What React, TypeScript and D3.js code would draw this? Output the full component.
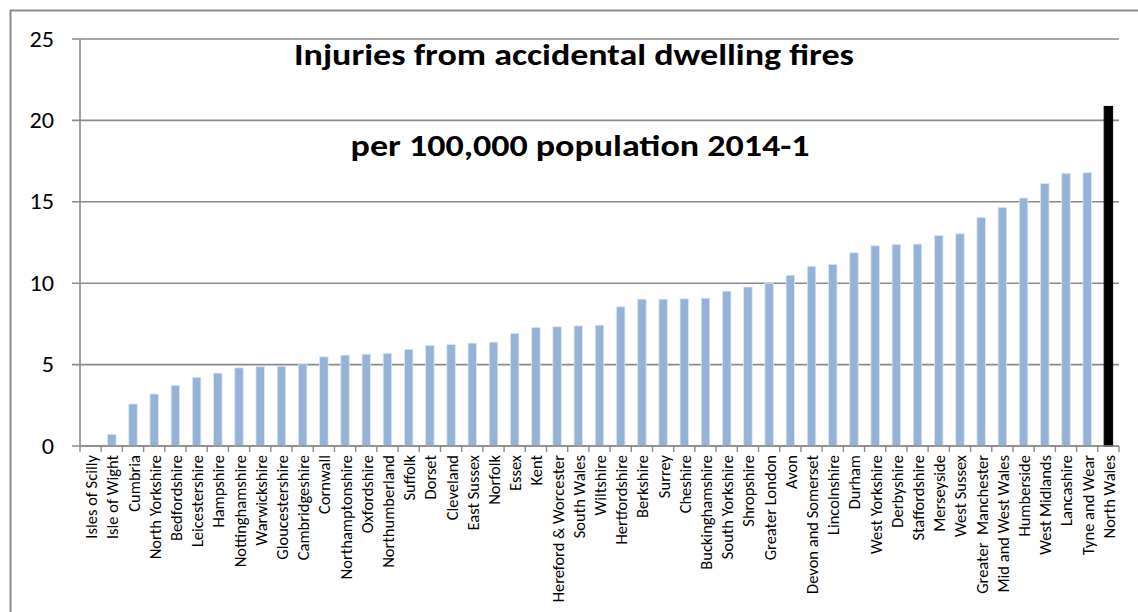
import React from "react";
import * as d3 from "d3";

// fire and rescue areas, sorted by rate
const areas = [
  "Isles of Scilly", "Isle of Wight", "Cumbria", "North Yorkshire", "Bedfordshire",
  "Leicestershire", "Hampshire", "Nottinghamshire", "Warwickshire", "Gloucestershire",
  "Cambridgeshire", "Cornwall", "Northamptonshire", "Oxfordshire", "Northumberland",
  "Suffolk", "Dorset", "Cleveland", "East Sussex", "Norfolk", "Essex", "Kent",
  "Hereford & Worcester", "South Wales", "Wiltshire", "Hertfordshire", "Berkshire",
  "Surrey", "Cheshire", "Buckinghamshire", "South Yorkshire", "Shropshire",
  "Greater London", "Avon", "Devon and Somerset", "Lincolnshire", "Durham",
  "West Yorkshire", "Derbyshire", "Staffordshire", "Merseyside", "West Sussex",
  "Greater  Manchester", "Mid and West Wales", "Humberside", "West Midlands",
  "Lancashire", "Tyne and Wear", "North Wales",
];

// injuries per 100,000 population
const rates = [
  0, 0.72, 2.58, 3.19, 3.72, 4.21, 4.48, 4.8, 4.87, 4.89,
  5.05, 5.48, 5.58, 5.64, 5.69, 5.93, 6.18, 6.24, 6.32, 6.38,
  6.91, 7.28, 7.32, 7.38, 7.42, 8.55, 9.02, 9.02, 9.04, 9.08,
  9.51, 9.77, 10.0, 10.49, 11.04, 11.16, 11.87, 12.3, 12.38, 12.4,
  12.93, 13.03, 14.03, 14.66, 15.23, 16.13, 16.75, 16.79, 20.86,
];

const highlighted = "North Wales";
const yTicks = [0, 5, 10, 15, 20, 25];
const titleLines = ["Injuries from accidental dwelling fires", "per 100,000 population 2014-1"];

const W = 1138;
const H = 612;
const margin = { top: 39, right: 19, bottom: 166, left: 80 };
const font = "Carlito, Calibri, Lato, sans-serif";

export default function App() {
  const y = d3.scaleLinear().domain([0, 25]).range([H - margin.bottom, margin.top]);
  const x = d3
    .scaleBand<string>()
    .domain(areas)
    .range([margin.left, W - margin.right]);

  const x0 = margin.left;
  const x1 = W - margin.right;
  const y0 = y(0);
  const step = x.step();
  const bw = step * 0.4;
  const cx = (name: string) => (x(name) ?? 0) + step / 2;

  return (
    <svg
      width={W}
      height={H}
      style={{ position: "absolute", left: 0, top: 0, background: "#fff" }}
      fontFamily={font}
    >
      {/* chart area border */}
      <rect x={10.5} y={10.5} width={W + 20} height={H + 20} fill="none" stroke="#8c8c8c" strokeWidth={2} />

      {/* gridlines */}
      {yTicks.map((t) => (
        <line key={t} x1={x0 - 8} x2={x1} y1={y(t)} y2={y(t)} stroke="#8a8a8a" strokeWidth={1.6} />
      ))}

      {/* bars */}
      {areas.map((a, i) => {
        const top = y(rates[i]);
        const isHi = a === highlighted;
        return (
          <rect
            key={a}
            x={cx(a) - bw / 2}
            y={top}
            width={bw}
            height={y0 - top}
            fill={isHi ? "#000" : "#95b3d7"}
            stroke={isHi ? "#000" : "#dce6f2"}
            strokeWidth={isHi ? 1 : 0.8}
          />
        );
      })}

      {/* axes */}
      <line x1={x0} x2={x0} y1={y(25)} y2={y0} stroke="#8a8a8a" strokeWidth={1.6} />
      <line x1={x0} x2={x1} y1={y0} y2={y0} stroke="#8a8a8a" strokeWidth={1.6} />
      {areas.concat([""]).map((a, i) => {
        const tx = x0 + i * step;
        return <line key={i} x1={tx} x2={tx} y1={y0} y2={y0 + 6} stroke="#8a8a8a" strokeWidth={1.4} />;
      })}

      {/* y labels */}
      {yTicks.map((t) => (
        <text
          key={t}
          transform={`translate(54,${y(t) + 7.5}) scale(1.1,1)`}
          textAnchor="end"
          fontSize={22}
          fill="#000"
        >
          {t}
        </text>
      ))}

      {/* x labels */}
      {areas.map((a) => (
        <text
          key={a}
          transform={`translate(${cx(a) + 6.5},${y0 + 9}) rotate(-90)`}
          textAnchor="end"
          fontSize={16.5}
          fill="#000"
          style={{ whiteSpace: "pre" }}
        >
          {a}
        </text>
      ))}

      {/* title */}
      <text transform="translate(574,65) scale(1.2,1)" textAnchor="middle" fontSize={30} fontWeight="bold" fill="#000">
        {titleLines[0]}
      </text>
      <text transform="translate(580,156) scale(1.2,1)" textAnchor="middle" fontSize={30} fontWeight="bold" fill="#000">
        {titleLines[1]}
      </text>
    </svg>
  );
}
